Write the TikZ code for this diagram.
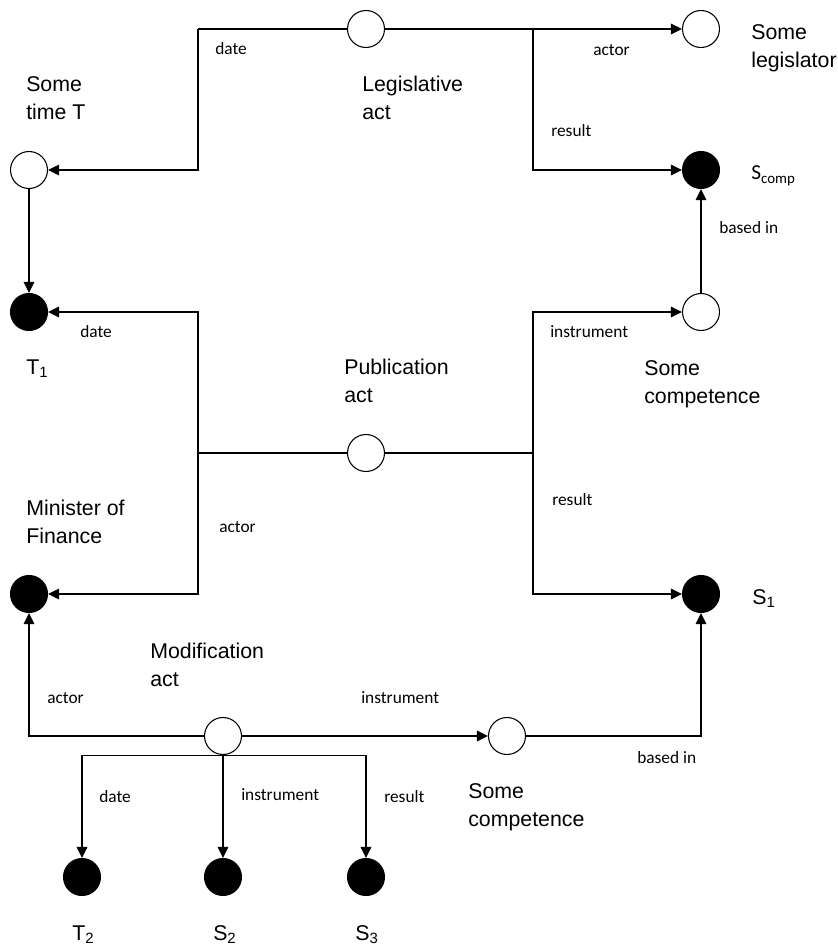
\documentclass[tikz,border=0pt]{standalone}
\usepackage{fontspec}
\setmainfont{Liberation Sans}
\newfontfamily\lblfont{Carlito}
\usetikzlibrary{arrows.meta}

\tikzset{
    ent/.style={circle, draw, line width=0.8pt, minimum size=27.75pt, inner sep=0pt},
    opent/.style={ent, fill=white},
    fullent/.style={ent, fill=black},
    name txt/.style={anchor=north west, inner sep=0pt, align=left, font=\fontsize{16}{21}\selectfont},
    sym txt/.style={anchor=base west, inner sep=0pt, font=\fontsize{16}{21}\selectfont},
    rel/.style={anchor=base west, inner sep=0pt, font=\lblfont\fontsize{13}{15}\selectfont},
    conn/.style={line width=0.8pt, -{Triangle[length=8.25pt, width=8pt]}},
    link/.style={line width=0.8pt}
}

\begin{document}
\begin{tikzpicture}[x=0.75pt, y=-0.75pt]
    \useasboundingbox (0,0) rectangle (838,945);

    % Entities
    \node[opent] (leg) at (366,29) {};
    \node[opent] (legislator) at (701,29) {};
    \node[opent] (time) at (29,170) {};
    \node[fullent] (scomp) at (701,170) {};
    \node[fullent] (t1) at (29,312) {};
    \node[opent] (comp1) at (701,312) {};
    \node[opent] (pub) at (366,453) {};
    \node[fullent] (minister) at (29,594) {};
    \node[fullent] (s1) at (701,594) {};
    \node[opent] (mod) at (223,736) {};
    \node[opent] (comp2) at (507,736) {};
    \node[fullent] (t2) at (82,877) {};
    \node[fullent] (s2) at (223,877) {};
    \node[fullent] (s3) at (366,877) {};

    % Branch points
    \coordinate (legl) at (198,29);
    \coordinate (legr) at (533,29);
    \coordinate (publ) at (198,453);
    \coordinate (pubr) at (533,453);

    % Names
    \node[name txt] (timetxt) at (26,76) {Some\\time T};
    \node[name txt] (legtxt) at (362,76) {Legislative\\act};
    \node[name txt] (legislatortxt) at (751,24) {Some\\legislator};
    \node[name txt] (pubtxt) at (344,359) {Publication\\act};
    \node[name txt] (comp1txt) at (644,360) {Some\\competence};
    \node[name txt] (ministertxt) at (26,500) {Minister of\\Finance};
    \node[name txt] (modtxt) at (150,643) {Modification\\act};
    \node[name txt] (comp2txt) at (468,783) {Some\\competence};

    \node[sym txt] (t1txt) at (26,374) {T\textsubscript{1}};
    \node[sym txt] (s1txt) at (752,604) {S\textsubscript{1}};
    \node[sym txt] (t2txt) at (72,940) {T\textsubscript{2}};
    \node[sym txt] (s2txt) at (213,940) {S\textsubscript{2}};
    \node[sym txt] (s3txt) at (355,940) {S\textsubscript{3}};
    \node[rel, font=\lblfont\fontsize{16}{18}\selectfont] (scomptxt) at (751,180) {S\textsubscript{comp}};

    % Legislative act
    \draw[link] (leg) -- (legl);
    \draw[conn] (legl) |- (time);
    \draw[link] (leg) -- (legr);
    \draw[conn] (legr) -- (legislator);
    \draw[conn] (legr) |- (scomp);
    \draw[conn] (time) -- (t1);
    \draw[conn] (comp1) -- (scomp);

    % Publication act
    \draw[link] (pub) -- (publ);
    \draw[conn] (publ) |- (t1);
    \draw[conn] (publ) |- (minister);
    \draw[link] (pub) -- (pubr);
    \draw[conn] (pubr) |- (comp1);
    \draw[conn] (pubr) |- (s1);

    % Modification act
    \draw[conn] (mod) -| (minister);
    \draw[conn] (mod) -- (comp2);
    \draw[conn] (comp2) -| (s1);
    \draw[conn] (mod.south) -| (t2);
    \draw[conn] (mod.south) -- (s2);
    \draw[conn] (mod.south) -| (s3);

    % Relation labels
    \node[rel] (l1) at (215,55) {date};
    \node[rel] (l2) at (593,56) {actor};
    \node[rel] (l3) at (551,137) {result};
    \node[rel] (l4) at (719,233) {based in};
    \node[rel] (l5) at (80,337) {date};
    \node[rel] (l6) at (550,337) {instrument};
    \node[rel] (l7) at (219,532) {actor};
    \node[rel] (l8) at (552,505) {result};
    \node[rel] (l9) at (47,703) {actor};
    \node[rel] (l10) at (361,703) {instrument};
    \node[rel] (l11) at (637,763) {based in};
    \node[rel] (l12) at (99,802) {date};
    \node[rel] (l13) at (241,800) {instrument};
    \node[rel] (l14) at (384,802) {result};
\end{tikzpicture}
\end{document}
